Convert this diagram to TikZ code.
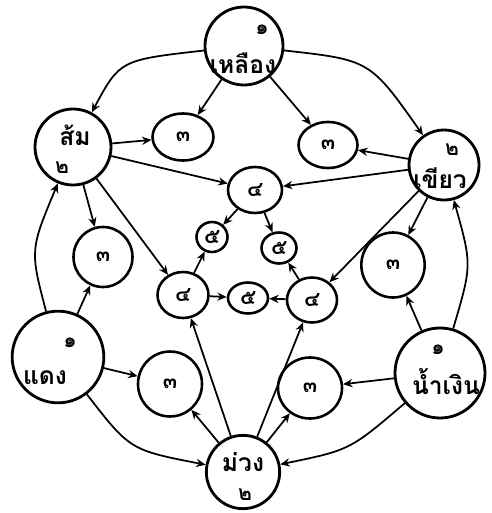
\documentclass[tikz,border=0pt]{standalone}
\usepackage{fontspec}
\newfontfamily\thai[Script=Thai]{Loma}
\usetikzlibrary{arrows.meta,shapes.geometric}
\begin{document}
\begin{tikzpicture}[x=0.03cm,y=-0.03cm,
  big/.style={circle,draw,line width=2.4pt,inner sep=0pt},
  sm/.style={ellipse,draw,line width=2.2pt,inner sep=0pt,font=\thai\bfseries\fontsize{18}{18}\selectfont},
  lbl/.style={font=\thai\bfseries\fontsize{21}{21}\selectfont,inner sep=0pt},
  num/.style={font=\thai\bfseries\fontsize{18}{18}\selectfont,inner sep=0pt},
  arr/.style={-{Stealth[length=8pt,width=7pt]},line width=1.5pt},
]
\useasboundingbox (0,0) rectangle (491,513);
% big circles
\node[big,minimum size=2.34cm] (y) at (244,46) {};
\node[big,minimum size=2.28cm] (o) at (73,147) {};
\node[big,minimum size=2.1cm] (g) at (444,165) {};
\node[big,minimum size=2.75cm] (r) at (58,357) {};
\node[big,minimum size=2.7cm] (b) at (440,373) {};
\node[big,minimum size=2.2cm] (p) at (243,472) {};
% labels
\node[num] (y1) at (262,30) {๑};
\node[lbl] (yl) at (243,63) {เหลือง};
\node[lbl] (ol) at (75,135) {ส้ม};
\node[num] (o2) at (62,168) {๒};
\node[num] (g2) at (452,150) {๒};
\node[lbl] (gl) at (440,178) {เขียว};
\node[num] (r1) at (70,343) {๑};
\node[lbl] (rl) at (45,378) {แดง};
\node[num] (b1) at (438,350) {๑};
\node[lbl] (bl) at (446,382) {น้ำเงิน};
\node[lbl] (pl) at (243,462) {ม่วง};
\node[num] (p2) at (245,495) {๒};
% small circles
\node[sm,minimum width=1.83cm,minimum height=1.41cm] (t1) at (183,137) {๓};
\node[sm,minimum width=1.77cm,minimum height=1.38cm] (t2) at (328,145) {๓};
\node[sm,minimum width=1.77cm,minimum height=1.8cm] (t3) at (103,257) {๓};
\node[sm,minimum width=1.9cm,minimum height=1.95cm] (t4) at (393,265) {๓};
\node[sm,minimum width=1.92cm,minimum height=1.95cm] (t5) at (170,384) {๓};
\node[sm,minimum width=1.92cm,minimum height=1.83cm] (t6) at (310,388) {๓};
\node[sm,minimum width=1.62cm,minimum height=1.38cm] (f1) at (255,190) {๔};
\node[sm,minimum width=1.53cm,minimum height=1.38cm] (f2) at (183,295) {๔};
\node[sm,minimum width=1.5cm,minimum height=1.35cm] (f3) at (312,300) {๔};
\node[sm,minimum width=0.93cm,minimum height=0.9cm] (v1) at (212,237) {๕};
\node[sm,minimum width=1.05cm,minimum height=0.93cm] (v2) at (279,248) {๕};
\node[sm,minimum width=1.2cm,minimum height=0.93cm] (v3) at (248,298) {๕};
% outer arcs
\draw[arr] (y) .. controls (120,60) .. (o);
\draw[arr] (y) .. controls (370,60) .. (g);
\draw[arr] (r) .. controls (30,250) .. (o);
\draw[arr] (b) .. controls (472,265) .. (g);
\draw[arr] (r) .. controls (130,450) .. (p);
\draw[arr] (b) .. controls (350,450) .. (p);
% straight arrows
\draw[arr] (y) -- (t1);
\draw[arr] (y) -- (t2);
\draw[arr] (o) -- (t1);
\draw[arr] (g) -- (t2);
\draw[arr] (o) -- (f1);
\draw[arr] (g) -- (f1);
\draw[arr] (o) -- (t3);
\draw[arr] (o) -- (f2);
\draw[arr] (g) -- (t4);
\draw[arr] (g) -- (f3);
\draw[arr] (r) -- (t3);
\draw[arr] (r) -- (t5);
\draw[arr] (b) -- (t4);
\draw[arr] (b) -- (t6);
\draw[arr] (p) -- (t5);
\draw[arr] (p) -- (t6);
\draw[arr] (p) -- (f2);
\draw[arr] (p) -- (f3);
\draw[arr] (f1) -- (v1);
\draw[arr] (f1) -- (v2);
\draw[arr] (f2) -- (v1);
\draw[arr] (f3) -- (v2);
\draw[arr] (f2) -- (v3);
\draw[arr] (f3) -- (v3);
\end{tikzpicture}
\end{document}
